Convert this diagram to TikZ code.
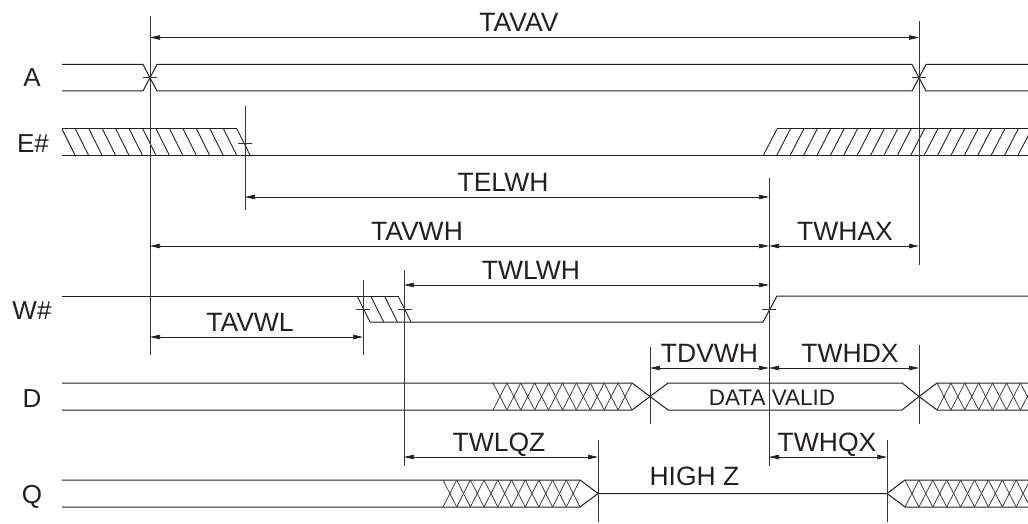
\documentclass[tikz,border=0pt]{standalone}
\usepackage{fontspec}
\setmainfont{Liberation Sans}
\usetikzlibrary{arrows.meta}
\definecolor{ink}{HTML}{231F20}
\tikzset{
  sig/.style={line width=1.0pt, draw=ink},
  hatch/.style={line width=0.9pt, draw=ink},
  xhatch/.style={line width=0.75pt, draw=ink!90},
  guide/.style={line width=0.75pt, draw=ink!90},
  tick/.style={line width=0.75pt, draw=ink!90},
  dim/.style={line width=0.7pt, draw=ink, {Triangle[length=10pt,width=4.5pt]}-{Triangle[length=10pt,width=4.5pt]}},
  dimlbl/.style={anchor=base, inner sep=0pt, text=ink, font=\fontsize{26.5}{26.5}\selectfont},
  siglbl/.style={anchor=base, inner sep=0pt, text=ink, font=\fontsize{26}{26}\selectfont},
  midlbl/.style={anchor=base, inner sep=0pt, text=ink, font=\fontsize{22.5}{22.5}\selectfont},
}
\begin{document}
\begin{tikzpicture}[x=1pt,y=-1pt]
\useasboundingbox (0,0) rectangle (1028,524);
\begin{scope}
\clip (0,0) rectangle (1028,524);

% ---------- signal names
\node[siglbl] (lA) at (32,87) {A};
\node[siglbl] (lE) at (33,153) {E\#};
\node[siglbl] (lW) at (32,319) {W\#};
\node[siglbl] (lD) at (32,407) {D};
\node[siglbl] (lQ) at (32,503) {Q};

% ---------- A
\draw[sig] (62,64.5) -- (143,64.5) -- (157,91) -- (912,91) -- (926,64.5) -- (1030,64.5);
\draw[sig] (62,91) -- (143,91) -- (157,64.5) -- (912,64.5) -- (926,91) -- (1030,91);
\draw[tick] (143,77.75) -- (157,77.75);
\draw[tick] (912,77.75) -- (926,77.75);

% ---------- E#
\draw[sig] (62,129) -- (237,129);
\draw[sig] (62,156) -- (1030,156);
\foreach \i in {0,...,13} \draw[hatch] (62+\i*13.46,129) -- ++(13.5,27);
\draw[sig] (777,129) -- (1030,129);
\foreach \i in {0,...,20} \draw[hatch] (763+\i*13.4,156) -- ++(14,-27);
\draw[tick] (238,143) -- (252,143);

% ---------- W#
\draw[sig] (62,296) -- (398,296);
\foreach \i in {0,...,3} \draw[hatch] (357+\i*13.7,296) -- ++(13,26);
\draw[sig] (370,322) -- (763,322) -- (777,296) -- (1030,296);
\draw[tick] (356,309) -- (370,309);
\draw[tick] (398,309) -- (412,309);
\draw[tick] (762,309) -- (776,309);

% ---------- D
\draw[sig] (62,383) -- (632,383) -- (650,396.5) -- (668,383) -- (902,383) -- (919,396.5) -- (937,383) -- (1030,383);
\draw[sig] (62,410) -- (632,410) -- (650,396.5) -- (668,410) -- (902,410) -- (919,396.5) -- (937,410) -- (1030,410);
\foreach \i in {0,...,9} {
  \draw[xhatch] (493+\i*13.9,383) -- ++(13.9,27);
  \draw[xhatch] (493+\i*13.9,410) -- ++(13.9,-27);
}
\foreach \i in {0,...,7} {
  \draw[xhatch] (937+\i*13.9,383) -- ++(13.9,27);
  \draw[xhatch] (937+\i*13.9,410) -- ++(13.9,-27);
}
\node[midlbl] (dv) at (772,405) {DATA VALID};

% ---------- Q
\draw[sig] (62,480) -- (580,480) -- (598,493.5) -- (887,493.5) -- (905,480) -- (1030,480);
\draw[sig] (62,507) -- (580,507) -- (598,493.5);
\draw[sig] (887,493.5) -- (905,507) -- (1030,507);
\foreach \i in {0,...,9} {
  \draw[xhatch] (443+\i*13.7,480) -- ++(13.7,27);
  \draw[xhatch] (443+\i*13.7,507) -- ++(13.7,-27);
}
\foreach \i in {0,...,8} {
  \draw[xhatch] (905+\i*13.9,480) -- ++(13.9,27);
  \draw[xhatch] (905+\i*13.9,507) -- ++(13.9,-27);
}
\node[dimlbl] (hz) at (694.5,485.5) {HIGH Z};

% ---------- guide lines
\coordinate (g1t) at (150,16);   \coordinate (g1b) at (150,355);
\coordinate (g2t) at (919,21);   \coordinate (g2b) at (919,265);
\coordinate (g3t) at (245,106);  \coordinate (g3b) at (245,210);
\coordinate (g4t) at (363,280);  \coordinate (g4b) at (363,355);
\coordinate (g5t) at (404,270);  \coordinate (g5b) at (404,466);
\coordinate (g6t) at (769,178);  \coordinate (g6b) at (769,466);
\coordinate (g7t) at (650,347);  \coordinate (g7b) at (650,424);
\coordinate (g8t) at (919,345);  \coordinate (g8b) at (919,424);
\coordinate (g9t) at (598,440);  \coordinate (g9b) at (598,522);
\coordinate (g10t) at (887,440); \coordinate (g10b) at (887,522);
\foreach \g in {g1,g2,g3,g4,g5,g6,g7,g8,g9,g10}
  \draw[guide] (\g t) -- (\g b);

% ---------- dimensions
\coordinate (a1) at (150,37.5);  \coordinate (a2) at (919,37.5);
\draw[dim] (a1) -- (a2);
\node[dimlbl] (tavav) at (519,32) {TAVAV};

\coordinate (b1) at (245,197);  \coordinate (b2) at (769,197);
\draw[dim] (b1) -- (b2);
\node[dimlbl] (telwh) at (503,191.5) {TELWH};

\coordinate (c1) at (150,246);  \coordinate (c2) at (769,246);  \coordinate (c3) at (919,246);
\draw[dim] (c1) -- (c2);
\draw[dim] (c2) -- (c3);
\node[dimlbl] (tavwh) at (417,240.5) {TAVWH};
\node[dimlbl] (twhax) at (845,240.5) {TWHAX};

\coordinate (d1) at (404,285);  \coordinate (d2) at (769,285);
\draw[dim] (d1) -- (d2);
\node[dimlbl] (twlwh) at (531,279.5) {TWLWH};

\coordinate (e1) at (150,337);  \coordinate (e2) at (363,337);
\draw[dim] (e1) -- (e2);
\node[dimlbl] (tavwl) at (250,331.5) {TAVWL};

\coordinate (f1) at (650,368);  \coordinate (f2) at (769,368);  \coordinate (f3) at (919,368);
\draw[dim] (f1) -- (f2);
\draw[dim] (f2) -- (f3);
\node[dimlbl] (tdvwh) at (709.5,362.5) {TDVWH};
\node[dimlbl] (twhdx) at (850,362.5) {TWHDX};

\coordinate (h1) at (404,457);  \coordinate (h2) at (598,457);
\coordinate (h3) at (769,457);  \coordinate (h4) at (887,457);
\draw[dim] (h1) -- (h2);
\draw[dim] (h3) -- (h4);
\node[dimlbl] (twlqz) at (499,451.5) {TWLQZ};
\node[dimlbl] (twhqx) at (827,451.5) {TWHQX};
\end{scope}
\end{tikzpicture}
\end{document}
